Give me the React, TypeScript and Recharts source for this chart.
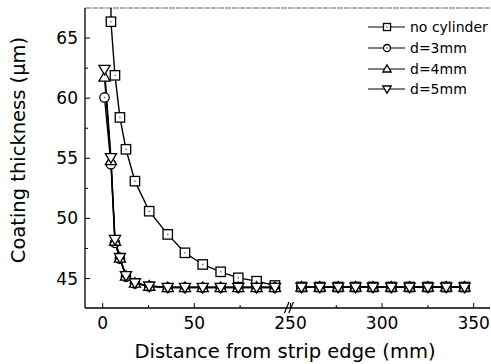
import { Label, Line, LineChart, ReferenceLine, XAxis, YAxis } from 'recharts';

// x positions (mm); the axis is broken between 100 and 250
const leftX = [1, 4.5, 6.7, 9.4, 12.7, 17.6, 25.4, 35.5, 44.9, 54.6, 64.4, 74, 84, 94];
const noCylinderX = [4.6, 4.5, 6.7, 9.4, 12.7, 17.6, 25.4, 35.5, 44.9, 54.6, 64.4, 74, 84, 94];
const rightX = [256, 266, 276, 285.5, 295, 305, 315, 325, 335, 345];

// coating thickness (um)
const noCylinderLeft = [70, 66.36, 61.9, 58.4, 55.75, 53.1, 50.6, 48.67, 47.14, 46.17, 45.56, 45.06, 44.78, 44.42];
const d3Left = [60.06, 54.5, 47.97, 46.65, 45.15, 44.6, 44.35, 44.25, 44.25, 44.25, 44.25, 44.25, 44.25, 44.25];
const d4Left = [61.75, 54.8, 48.1, 46.7, 45.2, 44.62, 44.36, 44.25, 44.25, 44.25, 44.25, 44.25, 44.25, 44.25];
const d5Left = [62.4, 55.06, 48.25, 46.75, 45.25, 44.65, 44.38, 44.27, 44.27, 44.27, 44.27, 44.27, 44.27, 44.27];
const noCylinderRight = [44.3, 44.3, 44.3, 44.3, 44.3, 44.3, 44.3, 44.3, 44.3, 44.3];
const dRight = [44.28, 44.28, 44.28, 44.28, 44.28, 44.28, 44.28, 44.28, 44.28, 44.28];

const xMajor = [0, 50, 250, 300, 350];
const xMinor = [25, 75, 275, 325];
const yMajor = [45, 50, 55, 60, 65];
const yMinor = [47.5, 52.5, 57.5, 62.5];

const Y_MIN = 42.55;
const Y_MAX = 67.5;
const BREAK_SHIFT = 147.5;
const FONT = "'DejaVu Sans', Verdana, sans-serif";

const toAxis = (x: number) => (x <= 100 ? x : x - BREAK_SHIFT);
const fromAxis = (t: number) => (t <= 100 ? t : t + BREAK_SHIFT);

type Pt = { t: number; v: number | null };

function buildSeries(xl: number[], yl: number[], xr: number[], yr: number[]): Pt[] {
  return [
    ...xl.map((x, i) => ({ t: toAxis(x), v: yl[i] })),
    { t: 100, v: null },
    ...xr.map((x, i) => ({ t: toAxis(x), v: yr[i] })),
  ];
}

const series = [
  { name: 'no cylinder', shape: 'square', data: buildSeries(noCylinderX, noCylinderLeft, rightX, noCylinderRight) },
  { name: 'd=3mm', shape: 'circle', data: buildSeries(leftX, d3Left, rightX, dRight) },
  { name: 'd=4mm', shape: 'up', data: buildSeries(leftX, d4Left, rightX, dRight) },
  { name: 'd=5mm', shape: 'down', data: buildSeries(leftX, d5Left, rightX, dRight) },
];

// "//" break marks on the x axis, in axis units
const breakMarks = [
  [{ t: 99.2, v: 42.13 }, { t: 101.7, v: 43.05 }],
  [{ t: 101.6, v: 42.13 }, { t: 104.1, v: 43.05 }],
];

function Marker({ shape, x, y, k = 1 }: { shape: string; x: number; y: number; k?: number }) {
  const sw = 1.3;
  const h = 4.7 * k;
  if (shape === 'square') {
    return (
      <g>
        <rect x={x - h} y={y - h} width={2 * h} height={2 * h} fill="#fff" stroke="#000" strokeWidth={sw} />
        <rect x={x - 0.7} y={y - 0.7} width={1.4} height={1.4} fill="#666" />
      </g>
    );
  }
  if (shape === 'circle') {
    return (
      <g>
        <circle cx={x} cy={y} r={h} fill="#fff" stroke="#000" strokeWidth={sw} />
        <rect x={x - 0.7} y={y - 0.7} width={1.4} height={1.4} fill="#666" />
      </g>
    );
  }
  const a = 5.6 * k;
  const b = 4 * k;
  const pts =
    shape === 'up'
      ? `${x},${y - a} ${x + a},${y + b} ${x - a},${y + b}`
      : `${x},${y + a} ${x + a},${y - b} ${x - a},${y - b}`;
  return <polygon points={pts} fill="#fff" stroke="#000" strokeWidth={sw} />;
}

function makeDot(shape: string) {
  return (props: any) => {
    const { cx, cy, index, payload } = props;
    if (cx == null || cy == null || payload?.v == null || payload.v > Y_MAX) return <g key={index} />;
    return (
      <g key={index}>
        <Marker shape={shape} x={cx} y={cy} />
      </g>
    );
  };
}

function XTick({ x, y, payload }: any) {
  const real = Math.round(fromAxis(payload.value));
  const major = xMajor.includes(real);
  return (
    <g>
      <line x1={x} x2={x} y1={y} y2={y - (major ? 5 : 3)} stroke="#000" strokeWidth={1} />
      {major && (
        <text x={x} y={y + 21} textAnchor="middle" fontSize={17} fontFamily={FONT} fill="#000">
          {real}
        </text>
      )}
    </g>
  );
}

function YTick({ x, y, payload }: any) {
  const major = yMajor.includes(payload.value);
  return (
    <g>
      <line x1={x} x2={x + (major ? 5 : 3)} y1={y} y2={y} stroke="#000" strokeWidth={1} />
      {major && (
        <text x={x - 7} y={y + 6} textAnchor="end" fontSize={17} fontFamily={FONT} fill="#000">
          {payload.value}
        </text>
      )}
    </g>
  );
}

function ChartLegend() {
  return (
    <div style={{ position: 'absolute', left: 367, top: 17, fontFamily: FONT, fontSize: 14, color: '#000' }}>
      {series.map((s) => (
        <div key={s.name} style={{ display: 'flex', alignItems: 'center', height: 20.7 }}>
          <svg width={39} height={14} style={{ marginRight: 4 }}>
            <line x1={1} x2={38} y1={7} y2={7} stroke="#000" strokeWidth={1.2} />
            <Marker shape={s.shape} x={20} y={7} k={0.75} />
          </svg>
          <span>{s.name}</span>
        </div>
      ))}
    </div>
  );
}

export default function App() {
  return (
    <div style={{ position: 'absolute', left: 0, top: 0, width: 491, height: 364, overflow: 'hidden', background: '#fff' }}>
      <LineChart width={491} height={364} margin={{ top: 8, right: 1, left: 0, bottom: 0 }}>
        <XAxis
          type="number"
          dataKey="t"
          domain={[-9.66, 211.4]}
          allowDataOverflow
          ticks={[...xMajor, ...xMinor].map(toAxis)}
          interval={0}
          tick={<XTick />}
          tickLine={false}
          tickSize={0}
          tickMargin={0}
          height={56}
          axisLine={{ stroke: '#000', strokeWidth: 1.3 }}
        >
          <Label
            content={() => (
              <text x={285} y={358} textAnchor="middle" fontSize={19.5} fontFamily={FONT} fill="#000">
                Distance from strip edge (mm)
              </text>
            )}
          />
        </XAxis>
        <YAxis
          type="number"
          dataKey="v"
          domain={[Y_MIN, Y_MAX]}
          allowDataOverflow
          ticks={[...yMajor, ...yMinor]}
          interval={0}
          tick={<YTick />}
          tickLine={false}
          tickSize={0}
          tickMargin={0}
          width={85}
          axisLine={{ stroke: '#000', strokeWidth: 1.3 }}
        >
          <Label
            content={() => (
              <text
                x={18}
                y={150}
                transform="rotate(-90, 18, 150)"
                textAnchor="middle"
                dominantBaseline="central"
                fontSize={19.5}
                fontFamily={FONT}
                fill="#000"
              >
                Coating thickness (µm)
              </text>
            )}
          />
        </YAxis>
        <ReferenceLine y={Y_MAX} stroke="#666" strokeWidth={1} strokeDasharray="6 1" />
        {breakMarks.map((seg, i) => (
          <ReferenceLine
            key={i}
            segment={[{ x: seg[0].t, y: seg[0].v }, { x: seg[1].t, y: seg[1].v }]}
            stroke="#000"
            strokeWidth={1.2}
            ifOverflow="visible"
          />
        ))}
        {series.map((s) => (
          <Line
            key={s.name}
            data={s.data}
            dataKey="v"
            name={s.name}
            type="linear"
            stroke="#000"
            strokeWidth={1.4}
            dot={makeDot(s.shape)}
            activeDot={false}
            isAnimationActive={false}
          />
        ))}
      </LineChart>
      <ChartLegend />
    </div>
  );
}
